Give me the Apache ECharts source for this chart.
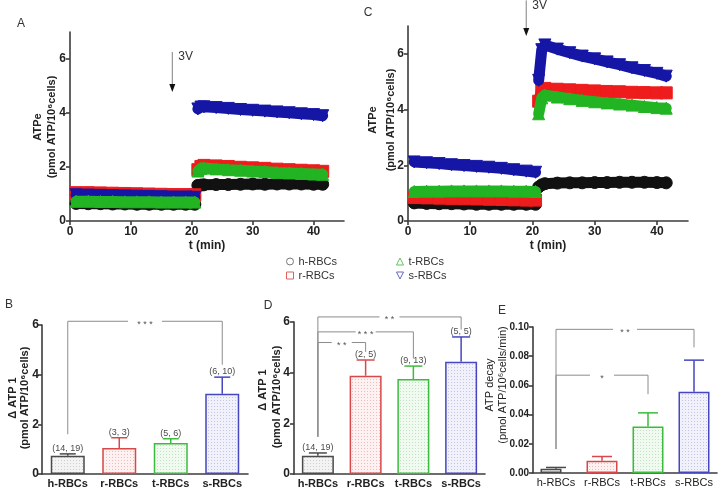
<!DOCTYPE html>
<html><head><meta charset="utf-8">
<script src="https://cdn.jsdelivr.net/npm/echarts@6/dist/echarts.min.js"></script>
<style>html,body{margin:0;padding:0;background:#fff}#c{width:720px;height:491px}</style>
</head><body><div id="c"></div>
<script>
// ---------- DATA ----------
const groups = ['h-RBCs', 'r-RBCs', 't-RBCs', 's-RBCs'];
const preTimes = [1, 3, 5, 7, 9, 11, 13, 15, 17, 19, 20.5];
const postTimes = [21, 21.5, 22, 24, 26, 28, 30, 32, 34, 36, 38, 40, 41.5];
const xTicks = [0, 10, 20, 30, 40];
const yTicksATP = [0, 2, 4, 6];

// Panel A (pre values then post values)
const atpA_h = [0.65,0.64,0.64,0.63,0.63,0.62,0.62,0.62,0.62,0.62,0.62, 1.32,1.33,1.34,1.35,1.35,1.36,1.37,1.36,1.37,1.37,1.37,1.36,1.36];
const atpA_r = [1.05,1.05,1.04,1.03,1.02,1.01,1.0,0.99,0.98,0.98,0.97, 1.9,2.02,2.06,2.04,2.02,1.99,1.97,1.95,1.92,1.9,1.88,1.86,1.84];
const atpA_t = [0.73,0.73,0.72,0.72,0.71,0.71,0.71,0.7,0.7,0.7,0.7, 1.85,1.95,1.96,1.93,1.9,1.88,1.85,1.83,1.8,1.78,1.76,1.74,1.73];
const atpA_s = [0.97,0.96,0.95,0.94,0.93,0.92,0.91,0.9,0.89,0.89,0.88, 4.15,4.22,4.23,4.2,4.17,4.13,4.1,4.07,4.04,4.01,3.97,3.94,3.9];
// Panel C
const atpC_h = [0.65,0.63,0.62,0.62,0.61,0.6,0.6,0.6,0.6,0.6,0.6, 1.22,1.3,1.34,1.36,1.37,1.37,1.38,1.38,1.39,1.39,1.39,1.38,1.37];
const atpC_r = [0.84,0.83,0.82,0.81,0.8,0.79,0.78,0.77,0.76,0.75,0.75, 4.3,4.72,4.76,4.73,4.71,4.69,4.67,4.65,4.64,4.62,4.61,4.6,4.6];
const atpC_t = [1.06,1.07,1.07,1.08,1.08,1.08,1.08,1.08,1.07,1.07,1.06, 3.85,4.42,4.52,4.45,4.39,4.33,4.28,4.24,4.2,4.16,4.11,4.07,4.05];
const atpC_s = [2.12,2.09,2.06,2.02,1.99,1.96,1.93,1.89,1.84,1.79,1.75, 5.05,6.15,6.32,6.17,6.04,5.92,5.82,5.71,5.61,5.5,5.4,5.3,5.2];

// 3V stimulus arrows: [time, yStart, yEnd]
const stimA = [16.8, 6.26, 4.78];
const stimC = [19.0, 7.92, 6.64];

// Panel B
const dATP1_B = [0.73, 1.05, 1.25, 3.23];
const dATP1_B_errTop = [0.81, 1.46, 1.42, 3.90];
const nB = ['(14, 19)', '(3, 3)', '(5, 6)', '(6, 10)'];
// Panel D
const dATP1_D = [0.72, 3.88, 3.75, 4.43];
const dATP1_D_errTop = [0.83, 4.50, 4.26, 5.41];
const nD = ['(14, 19)', '(2, 5)', '(9, 13)', '(5, 5)'];
// Panel E
const decayE = [0.0029, 0.0084, 0.0318, 0.0556];
const decayE_errTop = [0.0038, 0.0113, 0.0412, 0.0773];

// significance brackets: [leftCategory, yTop, rightCategory, yLeftEnd, yRightEnd]
const sigB = [[0, 6.15, 3, 1.6, 4.4]];
const sigB_txt = ['* * *'];
const sigD = [[0, 5.19, 1, 1.47, 4.82], [0, 5.61, 2, 1.47, 4.56], [0, 6.2, 3, 1.47, 5.7]];
const sigD_txt = ['* *', '* * *', '* *'];
const sigE = [[0, 0.067, 2, 0.0164, 0.054], [0, 0.0984, 3, 0.0164, 0.086]];
const sigE_txt = ['*', '* *'];

// ---------- STYLE ----------
const FONT = '"Liberation Sans", Arial, Helvetica, sans-serif';
const lineCol = ['#111111', '#ee1c1c', '#22b422', '#1616a6'];
const legCol = ['#777777', '#e06060', '#66c066', '#6666c0'];
const barBorder = ['#4a4a4a', '#d84848', '#3cbc3c', '#4646c0'];
const symbols = ['circle', 'rect', 'triangle', 'path://M0,0 L10,0 L5,10 Z'];
const AX = '#3c3c3c';

function dots(bg, dot) {
  const c = document.createElement('canvas');
  c.width = 3; c.height = 3;
  const g = c.getContext('2d');
  g.fillStyle = bg; g.fillRect(0, 0, 3, 3);
  g.fillStyle = dot; g.fillRect(1, 1, 1, 1);
  return { image: c, repeat: 'repeat' };
}
const barFill = [dots('#f3f3f3', '#cfcfcf'), dots('#fdf1f1', '#eebcbc'), dots('#f0faf0', '#bfe2bf'), dots('#f1f1fb', '#c4c4e6')];

function tcSeries(gi, gIdx, vals, z) {
  const n = preTimes.length;
  const data = preTimes.map((t, i) => [t, vals[i]])
    .concat([[20.75, null]])
    .concat(postTimes.map((t, i) => [t, vals[n + i]]));
  return {
    type: 'line', name: groups[gIdx], xAxisIndex: gi, yAxisIndex: gi, data, z,
    symbol: symbols[gIdx], symbolSize: 12, showSymbol: true, connectNulls: false,
    lineStyle: { color: lineCol[gIdx], width: 11, cap: 'round', join: 'round' },
    itemStyle: { color: lineCol[gIdx], borderColor: lineCol[gIdx], borderWidth: 1 },
    emphasis: { disabled: true }, silent: true
  };
}

function barSeries(gi, vals, idxs, width) {
  return {
    type: 'bar', xAxisIndex: gi, yAxisIndex: gi, barWidth: width, barGap: '-100%', z: 2, silent: true,
    data: vals.map((v, i) => idxs.indexOf(i) < 0 ? '-' : ({ value: v, itemStyle: { color: barFill[i], borderColor: barBorder[i], borderWidth: 1.5 } }))
  };
}

function errSeries(gi, vals, tops, capHalf, labels) {
  return {
    type: 'custom', xAxisIndex: gi, yAxisIndex: gi, clip: false, z: 5, silent: true,
    data: vals.map((v, i) => [i, v, tops[i]]),
    renderItem(params, api) {
      const i = params.dataIndex;
      const p0 = api.coord([api.value(0), api.value(1)]);
      const p1 = api.coord([api.value(0), api.value(2)]);
      const ch = [
        { type: 'line', shape: { x1: p0[0], y1: p0[1], x2: p1[0], y2: p1[1] }, style: { stroke: barBorder[i], lineWidth: 1.5 } },
        { type: 'line', shape: { x1: p1[0] - capHalf, y1: p1[1], x2: p1[0] + capHalf, y2: p1[1] }, style: { stroke: barBorder[i], lineWidth: 1.5 } }
      ];
      if (labels) ch.push({ type: 'text', x: p1[0], y: p1[1] - 1, style: { text: labels[i], align: 'center', verticalAlign: 'bottom', fill: '#4a4a4a', font: '9px ' + FONT } });
      return { type: 'group', children: ch };
    }
  };
}

function sigSeries(gi, defs, txt, gap) {
  return {
    type: 'custom', xAxisIndex: gi, yAxisIndex: gi, clip: false, z: 6, silent: true,
    data: defs,
    renderItem(params, api) {
      const i = params.dataIndex;
      const L = api.coord([api.value(0), api.value(1)]);
      const R = api.coord([api.value(2), api.value(1)]);
      const LB = api.coord([api.value(0), api.value(3)]);
      const RB = api.coord([api.value(2), api.value(4)]);
      const xm = (L[0] + R[0]) / 2, y = L[1];
      const st = { stroke: '#8c8c8c', lineWidth: 1, fill: null };
      return { type: 'group', children: [
        { type: 'polyline', shape: { points: [[LB[0], LB[1]], [L[0], y], [xm - gap / 2, y]] }, style: st },
        { type: 'polyline', shape: { points: [[xm + gap / 2, y], [R[0], y], [RB[0], RB[1]]] }, style: st },
        { type: 'text', x: xm, y: y + 3, style: { text: txt[i], align: 'center', verticalAlign: 'middle', fill: '#555', font: '9px ' + FONT } }
      ] };
    }
  };
}

function stimSeries(gi, def) {
  return {
    type: 'custom', xAxisIndex: gi, yAxisIndex: gi, clip: false, z: 7, silent: true,
    data: [def],
    renderItem(params, api) {
      const a = api.coord([api.value(0), api.value(1)]);
      const b = api.coord([api.value(0), api.value(2)]);
      return { type: 'group', children: [
        { type: 'line', shape: { x1: a[0], y1: a[1], x2: b[0], y2: b[1] - 6 }, style: { stroke: '#808080', lineWidth: 1 } },
        { type: 'polygon', shape: { points: [[b[0] - 3, b[1] - 8], [b[0] + 3, b[1] - 8], [b[0], b[1]]] }, style: { fill: '#111' } },
        { type: 'text', x: a[0] + 6, y: a[1] - 1, style: { text: '3V', fill: '#333', font: '12px ' + FONT, align: 'left', verticalAlign: 'top' } }
      ] };
    }
  };
}

const lblBold = (size) => ({ color: '#222', fontWeight: 'bold', fontSize: size, fontFamily: FONT });
function valueX(gi) {
  return {
    type: 'value', gridIndex: gi, min: 0, max: 45,
    axisLine: { show: true, lineStyle: { color: AX, width: 1.6 } },
    axisTick: { show: true, customValues: xTicks, length: 4, lineStyle: { color: AX, width: 1.6 } },
    axisLabel: Object.assign({ customValues: xTicks, margin: 5 }, lblBold(12)),
    splitLine: { show: false },
    name: 't (min)', nameLocation: 'middle', nameGap: 19,
    nameTextStyle: Object.assign({ verticalAlign: 'top' }, lblBold(12))
  };
}
function valueYatp(gi) {
  return {
    type: 'value', gridIndex: gi, min: 0, max: 7,
    axisLine: { show: true, lineStyle: { color: AX, width: 1.6 } },
    axisTick: { show: true, customValues: yTicksATP, length: 4, lineStyle: { color: AX, width: 1.6 } },
    axisLabel: Object.assign({ customValues: yTicksATP, margin: 4 }, lblBold(12)),
    splitLine: { show: false }
  };
}
function catX(gi, bold) {
  return {
    type: 'category', gridIndex: gi, data: groups,
    axisLine: { show: true, lineStyle: { color: AX, width: 1.6 } },
    axisTick: { show: false },
    axisLabel: { margin: 4, color: '#222', fontSize: 11, fontWeight: bold ? 'bold' : 'normal', fontFamily: FONT, interval: 0 },
    splitLine: { show: false }
  };
}
function barY(gi, max, interval, fmt, size, margin) {
  return {
    type: 'value', gridIndex: gi, min: 0, max, interval,
    axisLine: { show: true, lineStyle: { color: AX, width: 1.6 } },
    axisTick: { show: true, length: 4, lineStyle: { color: AX, width: 1.6 } },
    axisLabel: Object.assign({ margin, formatter: fmt }, lblBold(size)),
    splitLine: { show: false }
  };
}

function vText(x, y, text, bold, size) {
  return { type: 'text', x, y, rotation: Math.PI / 2,
    style: { text, fill: '#222', font: (bold ? 'bold ' : '') + size + 'px ' + FONT, align: 'center', verticalAlign: 'middle' } };
}
function letter(x, y, t) {
  return { type: 'text', x, y, style: { text: t, fill: '#333', font: '12px ' + FONT, align: 'center', verticalAlign: 'middle' } };
}

function legendItem(i) {
  return { name: groups[i], icon: symbols[i], itemStyle: { color: 'rgba(0,0,0,0)', borderColor: legCol[i], borderWidth: 1 } };
}

const option = {
  animation: false,
  backgroundColor: '#fff',
  grid: [
    { left: 70, top: 32, width: 274, height: 189 },
    { left: 408, top: 26, width: 280, height: 195 },
    { left: 42, top: 325, width: 206, height: 149 },
    { left: 294, top: 322, width: 191, height: 152 },
    { left: 533, top: 327, width: 184, height: 146 }
  ],
  xAxis: [valueX(0), valueX(1), catX(2, true), catX(3, true), catX(4, false)],
  yAxis: [valueYatp(0), valueYatp(1),
    barY(2, 6, 2, v => String(v), 12, 3),
    barY(3, 6, 2, v => String(v), 12, 4),
    barY(4, 0.1, 0.02, v => v.toFixed(2), 10, 4)],
  legend: [
    { left: 281, top: 251, orient: 'vertical', itemGap: 3, itemWidth: 7, itemHeight: 7, selectedMode: false,
      textStyle: { fontSize: 11, color: '#333', fontFamily: FONT }, data: [legendItem(0), legendItem(1)] },
    { left: 391, top: 251, orient: 'vertical', itemGap: 3, itemWidth: 7, itemHeight: 7, selectedMode: false,
      textStyle: { fontSize: 11, color: '#333', fontFamily: FONT }, data: [legendItem(2), legendItem(3)] }
  ],
  graphic: [
    letter(21, 24, 'A'), letter(368, 13, 'C'), letter(9, 305, 'B'), letter(268, 306, 'D'), letter(502, 311, 'E'),
    vText(38, 127, 'ATPe', true, 11), vText(52, 127, '(pmol ATP/10⁶cells)', true, 11),
    vText(373, 120, 'ATPe', true, 11), vText(391, 120, '(pmol ATP/10⁶cells)', true, 11),
    vText(13, 398, 'Δ ATP 1', true, 11), vText(25, 398, '(pmol ATP/10⁶cells)', true, 11),
    vText(263, 390, 'Δ ATP 1', true, 11), vText(277, 397, '(pmol ATP/10⁶cells)', true, 11),
    vText(490, 385, 'ATP decay', false, 11), vText(503, 385, '(pmol ATP/10⁶cells/min)', false, 11)
  ],
  series: [
    // Panel A
    tcSeries(0, 0, atpA_h, 3), tcSeries(0, 1, atpA_r, 4), tcSeries(0, 3, atpA_s, 5), tcSeries(0, 2, atpA_t, 6),
    stimSeries(0, stimA),
    // Panel C
    tcSeries(1, 0, atpC_h, 3), tcSeries(1, 1, atpC_r, 4), tcSeries(1, 2, atpC_t, 5), tcSeries(1, 3, atpC_s, 6),
    stimSeries(1, stimC),
    // Panel B
    barSeries(2, dATP1_B, [0, 1, 2, 3], 34),
    errSeries(2, dATP1_B, dATP1_B_errTop, 8, nB),
    sigSeries(2, sigB, sigB_txt, 34),
    // Panel D
    barSeries(3, dATP1_D, [0, 1, 2, 3], 32),
    errSeries(3, dATP1_D, dATP1_D_errTop, 9, nD),
    sigSeries(3, sigD, sigD_txt, 20),
    // Panel E
    barSeries(4, decayE, [0], 21),
    barSeries(4, decayE, [1, 2, 3], 31),
    errSeries(4, decayE, decayE_errTop, 10, null),
    sigSeries(4, sigE, sigE_txt, 24)
  ]
};

const chart = echarts.init(document.getElementById('c'), null, { renderer: 'canvas' });
chart.setOption(option);
</script>
</body></html>
